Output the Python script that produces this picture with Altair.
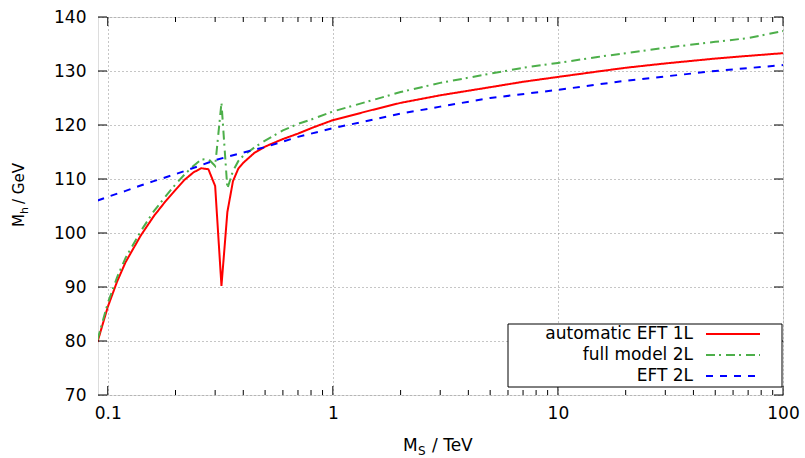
import altair as alt
import pandas as pd

# ---------------- data ----------------
series_names = ["automatic EFT 1L", "full model 2L", "EFT 2L"]
series_colors = ["#ff0000", "#4daf4a", "#0000ff"]
series_dash = [[1, 0], [9, 4, 2, 5], [7, 7]]

ms_red = [0.09, 0.10, 0.11, 0.12, 0.14, 0.16, 0.18, 0.20, 0.22, 0.24, 0.26, 0.28,
          0.30, 0.32, 0.34, 0.36, 0.38, 0.40, 0.45, 0.5, 0.6, 0.7, 0.8, 1.0, 1.5,
          2, 3, 5, 7, 10, 15, 20, 30, 50, 70, 100]
mh_red = [79.8, 86.3, 91.0, 94.6, 99.5, 103.1, 105.8, 108.0, 109.9, 111.2, 112.0, 111.8,
          108.7, 90.2, 103.9, 109.6, 111.9, 113.0, 114.9, 116.0, 117.4, 118.4, 119.4, 120.9, 122.8,
          124.1, 125.5, 127.0, 128.0, 128.9, 129.9, 130.6, 131.4, 132.3, 132.8, 133.3]

ms_green = [0.09, 0.10, 0.11, 0.12, 0.14, 0.16, 0.18, 0.20, 0.22, 0.24, 0.26, 0.28,
            0.30, 0.32, 0.34, 0.36, 0.38, 0.40, 0.45, 0.5, 0.6, 0.7, 0.8, 1.0, 1.5,
            2, 3, 5, 7, 10, 15, 20, 30, 50, 70, 100]
mh_green = [80.2, 87.0, 91.8, 95.4, 100.3, 104.0, 106.7, 109.0, 110.9, 112.4, 113.6, 113.7,
            112.4, 124.1, 108.2, 111.5, 113.3, 114.3, 115.9, 117.1, 119.0, 120.2, 121.0, 122.5, 124.6,
            126.1, 127.8, 129.5, 130.6, 131.5, 132.6, 133.3, 134.3, 135.4, 136.1, 137.4]

ms_blue = [0.09, 0.10, 0.12, 0.14, 0.16, 0.20, 0.25, 0.30, 0.40, 0.50, 0.70, 1.0,
           2, 3, 5, 10, 20, 30, 50, 100]
mh_blue = [106.0, 106.7, 107.8, 108.8, 109.6, 110.9, 112.3, 113.5, 114.9, 115.9, 117.8, 119.4,
           122.1, 123.4, 125.0, 126.5, 128.2, 129.0, 130.0, 131.1]

x_major = [0.1, 1, 10, 100]
x_minor = [0.2, 0.3, 0.4, 0.5, 0.6, 0.7, 0.8, 0.9,
           2, 3, 4, 5, 6, 7, 8, 9,
           20, 30, 40, 50, 60, 70, 80, 90]
y_major = [70, 80, 90, 100, 110, 120, 130, 140]

# ---------------- layout ----------------
W, H = 685, 378
FONT = "DejaVu Sans"
XDOM = [0.0905, 100]
YDOM = [70, 140]

xs = alt.Scale(type="log", domain=XDOM, nice=False)
ys = alt.Scale(domain=YDOM, nice=False, zero=False)

series = [(ms_red, mh_red), (ms_green, mh_green), (ms_blue, mh_blue)]

layers = []

# base with axes + grid (invisible points)
df_axes = pd.DataFrame({"M": x_major, "v": [70, 80, 90, 100]})
base = alt.Chart(df_axes).mark_point(opacity=0).encode(
    x=alt.X("M:Q", scale=xs,
            axis=alt.Axis(values=x_major, title=None, ticks=False, labelPadding=10,
                          labelExpr="'' + datum.value", labelFlush=False, labelOverlap=False,
                          grid=True, gridDash=[1, 3], gridColor="#8c8c8c", gridWidth=1,
                          domain=False, labelFont=FONT, labelFontSize=17, labelColor="black")),
    y=alt.Y("v:Q", scale=ys,
            axis=alt.Axis(values=y_major, title=None, ticks=False, labelPadding=12,
                          labelFlush=False, labelOverlap=False,
                          grid=True, gridDash=[1, 3], gridColor="#8c8c8c", gridWidth=1,
                          domain=False, labelFont=FONT, labelFontSize=17, labelColor="black")),
)
layers.append(base)

# curves
for (mx, my), name, col, dash in zip(series, series_names, series_colors, series_dash):
    df = pd.DataFrame({"M": mx, "v": my, "series": name})
    layers.append(
        alt.Chart(df).mark_line(color=col, strokeWidth=2, strokeDash=dash, clip=True).encode(
            x=alt.X("M:Q", scale=xs), y=alt.Y("v:Q", scale=ys)
        )
    )

# ticks (inward, mirrored)
df_xmaj = pd.DataFrame({"M": x_major})
df_xmin = pd.DataFrame({"M": x_minor})
df_ymaj = pd.DataFrame({"v": y_major})
for df, ln in [(df_xmaj, 9), (df_xmin, 5)]:
    layers.append(alt.Chart(df).mark_rule(color="black", strokeWidth=1).encode(
        x=alt.X("M:Q", scale=xs), y=alt.value(H - ln), y2=alt.value(H)))
    layers.append(alt.Chart(df).mark_rule(color="black", strokeWidth=1).encode(
        x=alt.X("M:Q", scale=xs), y=alt.value(0), y2=alt.value(ln)))
layers.append(alt.Chart(df_ymaj).mark_rule(color="black", strokeWidth=1).encode(
    y=alt.Y("v:Q", scale=ys), x=alt.value(0), x2=alt.value(9)))
layers.append(alt.Chart(df_ymaj).mark_rule(color="black", strokeWidth=1).encode(
    y=alt.Y("v:Q", scale=ys), x=alt.value(W - 9), x2=alt.value(W)))

# legend (gnuplot style: text right, sample line)
one = pd.DataFrame({"a": [0]})
layers.append(alt.Chart(one).mark_rect(fill="white", stroke="black", strokeWidth=1).encode(
    x=alt.value(410), x2=alt.value(684), y=alt.value(307), y2=alt.value(370)))
for i, (name, col, dash) in enumerate(zip(series_names, series_colors, series_dash)):
    yy = 317 + 21 * i
    layers.append(alt.Chart(pd.DataFrame({"t": [name]})).mark_text(
        align="right", baseline="middle", font=FONT, fontSize=17, color="black").encode(
        text="t:N", x=alt.value(595), y=alt.value(yy)))
    layers.append(alt.Chart(one).mark_rule(color=col, strokeWidth=2, strokeDash=dash).encode(
        x=alt.value(608), x2=alt.value(662), y=alt.value(yy)))

# axis titles with subscripts
def txt(t, x, y, size, dx=0, dy=0, angle=0):
    kw = dict(align="left", baseline="alphabetic", font=FONT, fontSize=size, color="black",
              dx=dx, dy=dy)
    if angle:
        kw["angle"] = angle
    return alt.Chart(pd.DataFrame({"t": [t]})).mark_text(**kw).encode(
        text="t:N", x=alt.value(x), y=alt.value(y))

# x title
layers.append(txt("M", 305, 434, 17))
layers.append(txt("S", 305, 434, 12, dx=15, dy=4))
layers.append(txt("/ TeV", 305, 434, 17, dx=29))
# y title (rotated)
layers.append(txt("M", -74, 210, 15, angle=270))
layers.append(txt("h", -74, 210, 11, dx=13, dy=4, angle=270))
layers.append(txt("/ GeV", -74, 210, 15, dx=23, angle=270))

chart = alt.layer(*layers).properties(
    width=W, height=H,
    autosize=alt.AutoSizeParams(type="none"),
    padding={"left": 98, "top": 17, "right": 22, "bottom": 63},
).configure_view(stroke="black", strokeWidth=1.2).configure(background="white")

chart.save("out.html", embed_options={"renderer": "svg", "actions": False})
